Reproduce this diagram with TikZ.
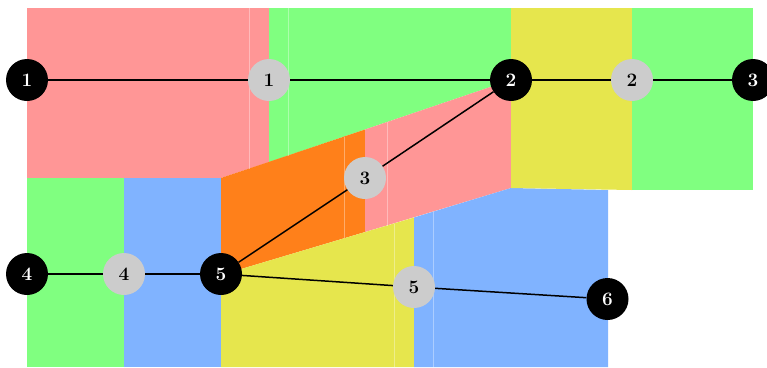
\documentclass[tikz,border=0pt]{standalone}
\definecolor{cpink}{RGB}{255,150,150}
\definecolor{cgreen}{RGB}{128,255,128}
\definecolor{cblue}{RGB}{128,179,255}
\definecolor{cyell}{RGB}{230,230,77}
\definecolor{corange}{RGB}{255,128,26}
\definecolor{cgray}{RGB}{204,204,204}
\begin{document}
\begin{tikzpicture}[x=1pt,y=-1pt,
  vtx/.style={circle,minimum size=42pt,inner sep=0pt,font=\fontsize{19}{22}\selectfont\bfseries},
  blk/.style={vtx,fill=black,text=white},
  gry/.style={vtx,fill=cgray,text=black},
  edge/.style={line width=1.5pt,black},
  seam/.style={white,opacity=0.35,line width=0.5pt}]
\useasboundingbox (0,0) rectangle (767,367);
\clip (0,0) rectangle (767,367);
% regions
\fill[cpink] (27,8) -- (269,8) -- (269,162) -- (221,178) -- (27,178) -- cycle;
\fill[cgreen] (269,8) -- (511,8) -- (511,80) -- (269,162) -- cycle;
\fill[corange] (221,178) -- (365,129.5) -- (365,232) -- (221,275) -- cycle;
\fill[cpink] (365,129.5) -- (511,80) -- (511,188) -- (365,232) -- cycle;
\fill[cyell] (221,275) -- (414,217.5) -- (414,367) -- (221,367) -- cycle;
\fill[cblue] (414,217.5) -- (511,188) -- (608,190) -- (608,367) -- (414,367) -- cycle;
\fill[cyell] (511,8) -- (632,8) -- (632,190) -- (511,188) -- cycle;
\fill[cgreen] (632,8) -- (753,8) -- (753,190) -- (632,190) -- cycle;
\fill[cgreen] (27,178) rectangle (124,367);
\fill[cblue] (124,178) rectangle (221,367);
% seams
\draw[seam] (249.7,8) -- (249.7,168.5);
\draw[seam] (288.7,8) -- (288.7,155.5);
\draw[seam] (344.5,136.5) -- (344.5,238);
\draw[seam] (387.3,122) -- (387.3,225.5);
\draw[seam] (394.5,223.5) -- (394.5,367);
\draw[seam] (433.7,211.5) -- (433.7,367);
% vertices
\node[blk] (b1) at (27,80) {1};
\node[gry] (g1) at (269,80) {1};
\node[blk] (b2) at (511,80) {2};
\node[gry] (g2) at (632,80) {2};
\node[blk] (b3) at (753,80) {3};
\node[gry] (g3) at (365,178) {3};
\node[blk] (b4) at (27,274) {4};
\node[gry] (g4) at (124,274) {4};
\node[blk] (b5) at (221,274) {5};
\node[gry] (g5) at (414,287) {5};
\node[blk] (b6) at (607.5,299) {6};
% edges
\begin{scope}[on background layer/.try]
\end{scope}
\draw[edge] (b1) -- (g1) -- (b2) -- (g2) -- (b3);
\draw[edge] (b2) -- (g3) -- (b5);
\draw[edge] (b4) -- (g4) -- (b5);
\draw[edge] (b5) -- (g5) -- (b6);
\end{tikzpicture}
\end{document}
